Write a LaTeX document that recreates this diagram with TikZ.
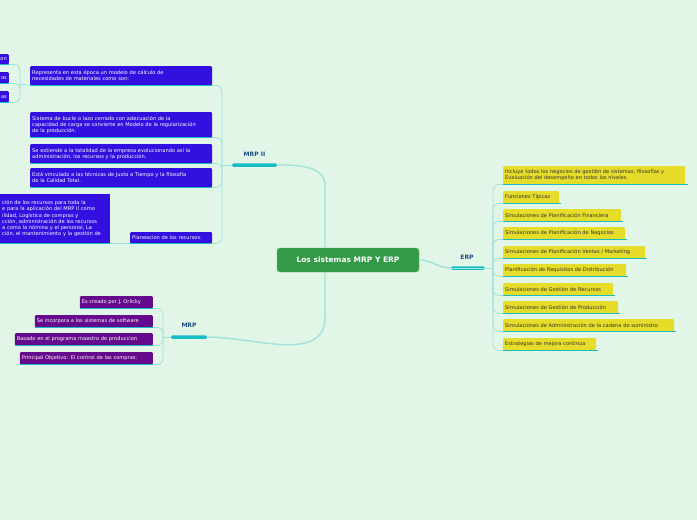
\documentclass[tikz,border=0pt]{standalone}
\usepackage{fontspec}
\setmainfont{DejaVu Sans}
\definecolor{bg}{HTML}{E2F6E8}
\definecolor{cbl}{HTML}{3310E0}
\definecolor{cye}{HTML}{E6DC2A}
\definecolor{cpu}{HTML}{650A8C}
\definecolor{cbar}{HTML}{18BCC4}
\definecolor{ccon}{HTML}{A2E2DA}
\definecolor{cgr}{HTML}{349A48}
\definecolor{clab}{HTML}{1A4F86}
\begin{document}
\begin{tikzpicture}[x=1pt,y=-1pt,
  conn/.style={draw=ccon, line width=0.8pt, rounded corners=6},
  ul/.style={draw=cbar, line width=1.2pt},
  base/.style={inner sep=2pt, rounded corners=1pt, font=\fontsize{5.1}{6.2}\selectfont, align=left, anchor=north west},
  bl/.style={base, fill=cbl, text=white},
  ye/.style={base, fill=cye, text=black!80},
  pu/.style={base, fill=cpu, text=white},
  bar/.style={fill=cbar, rounded corners=1.5pt, minimum height=3.5pt, inner sep=0pt},
  lab/.style={font=\fontsize{6}{7}\selectfont\bfseries, text=clab}
]
\fill[bg] (0,0) rectangle (697,520);
\useasboundingbox (0,0) rectangle (697,520);
\clip (0,0) rectangle (697,520);

% center
\node[fill=cgr, rounded corners=3pt, minimum width=142pt, minimum height=24pt, text=white, font=\fontsize{7.5}{9}\selectfont\bfseries, draw=green!60!black!60] (c) at (348,260) {Los sistemas MRP Y ERP};

% bars and labels
\node[bar, minimum width=45pt] (m2) at (254.5,165) {};
\node[lab] (m2l) at (254.5,154) {MRP II};
\node[bar, minimum width=36pt] (m1) at (189,337) {};
\node[lab] (m1l) at (189,325) {MRP};
\node[bar, minimum width=34pt] (e) at (468,268) {};
\node[lab] (el) at (467,257) {ERP};

\draw[conn, line width=1.4pt, rounded corners=0] ([xshift=-23pt]c.north) -- ++(0,-62) to[out=90,in=0] (m2.east);
\draw[conn, line width=1.4pt, rounded corners=0] ([xshift=-23pt]c.south) -- ++(0,45) to[out=-90,in=0] (m1.east);
\draw[conn, line width=1.4pt, rounded corners=0] (c.east) to[out=0,in=180] (e.west);

% MRP II children
\coordinate (j2) at (222,165);
\draw[conn, rounded corners=0] (m2.west) -- (j2);
\node[bl, minimum height=19pt, text width=178pt] (b1) at (30,66) {Representa en esta época un modelo de cálculo de\\necesidades de materiales como son:};
\node[bl, minimum height=25pt, text width=178pt] (b2) at (30,112) {Sistema de bucle o lazo cerrado con adecuación de la\\capacidad de carga se convierte en Modelo de la regularización\\de la producción.};
\node[bl, minimum height=19pt, text width=178pt] (b3) at (30,144) {Se extiende a la totalidad de la empresa evolucionando así la\\administración, los recursos y la producción.};
\node[bl, minimum height=19pt, text width=178pt] (b4) at (30,168) {Está vinculado a las técnicas de Justo a Tiempo y la filosofía\\de la Calidad Total.};
\node[bl, minimum height=11pt, text width=78pt] (b5) at (130,232) {Planeacion de los recursos.};
\foreach \n in {b1,b2,b3,b4,b5}{
  \draw[ul] (\n.south west) -- (\n.south east);
  \draw[conn] (\n.south east) -| (j2);}

% sub of b1
\coordinate (j1) at (20,84);
\draw[conn, rounded corners=0] (b1.south west) -- (j1);
\node[bl, minimum height=10pt, anchor=north east, align=right] (s1) at (9,54) {on};
\node[bl, minimum height=11pt, anchor=north east, align=right] (s2) at (9,72) {os};
\node[bl, minimum height=11pt, anchor=north east, align=right] (s3) at (9,91) {as};
\foreach \n in {s1,s2,s3}{
  \draw[ul] (\n.south west) -- (\n.south east);
  \draw[conn] (\n.south east) -| (j1);}

% sub of b5
\node[bl, minimum height=49pt, anchor=north west, align=left, text width=106pt, rounded corners=0] (s5) at (0,194) {ción de los recursos para toda la\\e para la aplicación del MRP II como\\ilidad, Logística de compras y\\cción, administración de los recursos\\a como la nómina y el personal, La\\ción, el mantenimiento y la gestión de};
\draw[ul] (s5.south west) -- (s5.south east);
\draw[conn] (s5.south east) -- (b5.south west);

% ERP children
\coordinate (je) at (493,268);
\draw[conn, rounded corners=0] (e.west) -- (je);
\foreach \n/\y/\w/\t in {
 e2/191/56/{Funciones Típicas},
 e3/209/118/{Simulaciones de Planificación Financiera},
 e4/227/122/{Simulaciones de Planificación de Negocios},
 e5/246/142/{Simulaciones de Planificación Ventas / Marketing},
 e6/264/123/{Planificación de Requisitos de Distribución},
 e7/283/110/{Simulaciones de Gestión de Recursos},
 e8/301/115/{Simulaciones de Gestión de Producción},
 e9/319/171/{Simulaciones de Administración de la cadena de suministro},
 e10/338/93/{Estrategias de mejora continúa}}{
  \node[ye, minimum height=12pt, text width=\w pt-4pt] (\n) at (503,\y) {\t};
  \draw[ul] (\n.south west) -- ([xshift=2pt]\n.south east);
  \draw[conn] (\n.south west) -| (je);}
\node[ye, minimum height=18pt, text width=178pt] (e1) at (503,166) {Incluye todos los negocios de gestión de sistemas, filosofías y\\Evaluación del desempeño en todos los niveles.};
\draw[ul] (e1.south west) -- ([xshift=3pt]e1.south east);
\draw[conn] (e1.south west) -| (je);

% MRP children
\coordinate (jm) at (163,337);
\draw[conn, rounded corners=0] (m1.west) -- (jm);
\foreach \n/\y/\w/\t in {
 p1/296/73/{Es creado por J. Orlicky},
 p2/315/118/{Se incorpora a los sistemas de software},
 p3/333/138/{Basado en el programa maestro de produccion},
 p4/352/133/{Principal Objetivo: El control de las compras.}}{
  \node[pu, minimum height=12pt, text width=\w pt-4pt, anchor=north east] (\n) at (153,\y) {\t};
  \draw[ul] (\n.south west) -- (\n.south east);
  \draw[conn] (\n.south east) -| (jm);}
\end{tikzpicture}
\end{document}
